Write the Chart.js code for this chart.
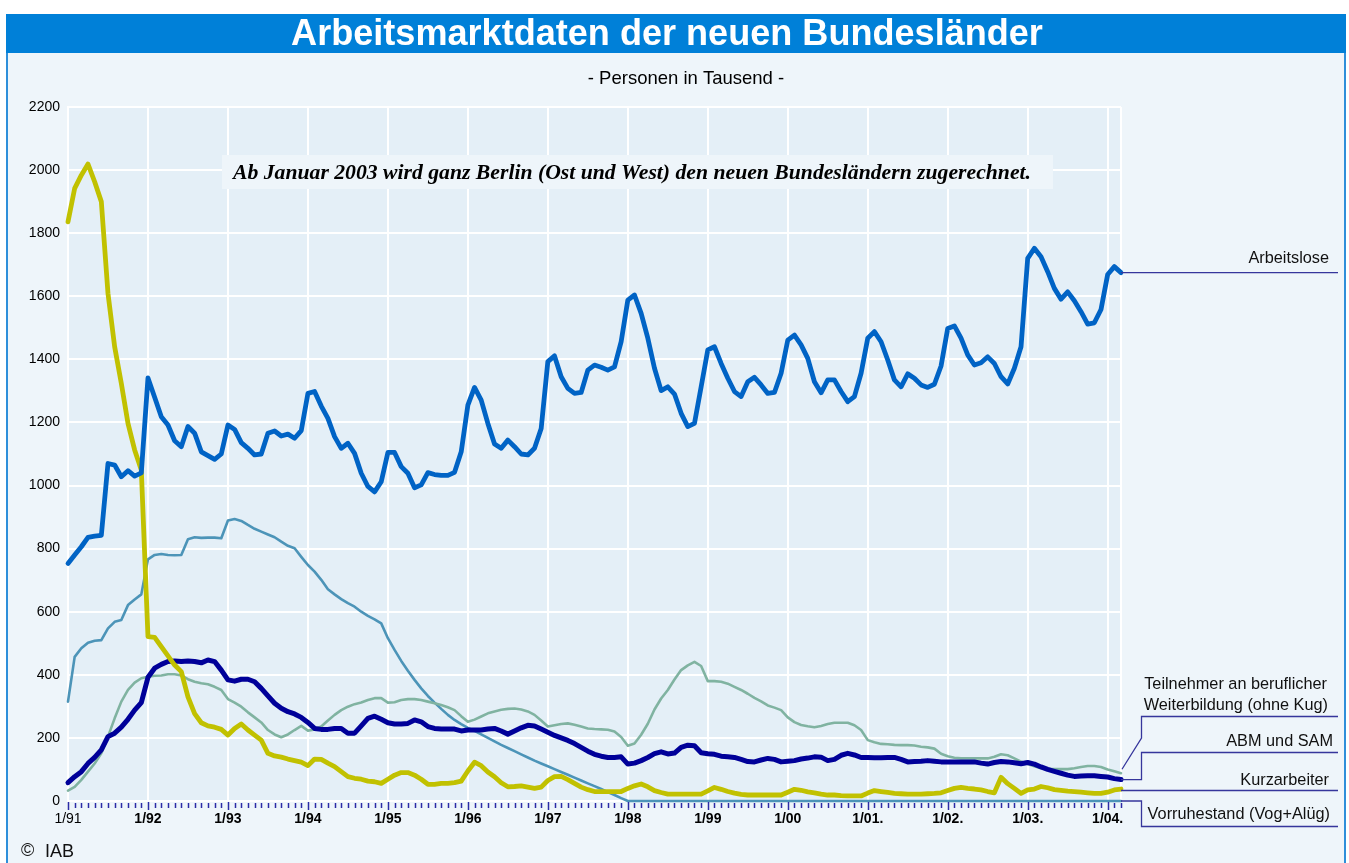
<!DOCTYPE html>
<html>
<head>
<meta charset="utf-8">
<script src="https://cdn.jsdelivr.net/npm/chart.js@4.4.1/dist/chart.umd.min.js"></script>
<style>
  html, body { margin: 0; padding: 0; background: #ffffff; overflow: hidden; }
  #wrap { position: absolute; left: 0; top: 0; width: 1349px; height: 863px; }
  canvas { display: block; }
</style>
</head>
<body>
<div id="wrap"><canvas id="c" width="1349" height="863" style="width:1349px;height:863px"></canvas></div>
<script>
// ---------- DATA (Personen in Tausend, monatlich 1/91 – 3/04) ----------
const yearLabels = ['1/91','1/92','1/93','1/94','1/95','1/96','1/97','1/98','1/99','1/00','1/01.','1/02.','1/03.','1/04.'];
const monthsInLastYear = 3;

const arbeitslose = [
  753, 780, 806, 836, 840, 842, 1070, 1065, 1028, 1047, 1030, 1040,
  1341, 1280, 1218, 1192, 1142, 1123, 1187, 1166, 1107, 1095, 1083, 1100,
  1192, 1178, 1136, 1118, 1097, 1100, 1166, 1173, 1157, 1163, 1150, 1174,
  1292, 1298, 1252, 1213, 1155, 1118, 1134, 1102, 1039, 997, 980, 1012,
  1105, 1105, 1060, 1039, 993, 1002, 1041, 1035, 1032, 1032, 1042, 1107,
  1255, 1311, 1271, 1197, 1132, 1118, 1144, 1123, 1100, 1097, 1118, 1181,
  1393, 1411, 1345, 1308, 1292, 1295, 1366, 1382, 1375, 1366, 1376, 1456,
  1588, 1604, 1546, 1467, 1372, 1301, 1313, 1290, 1229, 1187, 1197, 1313,
  1430, 1440, 1387, 1340, 1298, 1282, 1329, 1343, 1319, 1292, 1295, 1356,
  1461, 1477, 1446, 1403, 1329, 1294, 1335, 1335, 1298, 1266, 1282, 1356,
  1467, 1488, 1456, 1398, 1335, 1313, 1354, 1340, 1319, 1311, 1321, 1379,
  1498, 1506, 1467, 1414, 1382, 1389, 1408, 1387, 1345, 1322, 1372, 1440,
  1720, 1752, 1725, 1678, 1625, 1591, 1614, 1586, 1551, 1512, 1516, 1558,
  1669, 1694, 1675
];

const kurzarbeiter = [
  1836, 1942, 1984, 2019, 1963, 1900, 1609, 1440, 1324, 1197, 1113, 1049,
  521, 519, 489, 460, 431, 410, 330, 277, 248, 238, 234, 227,
  209, 230, 244, 225, 209, 193, 151, 143, 139, 133, 128, 123,
  112, 133, 132, 120, 109, 93, 77, 72, 69, 63, 61, 56,
  69, 82, 90, 90, 82, 69, 53, 53, 56, 56, 58, 63,
  95, 123, 112, 92, 77, 58, 45, 46, 48, 44, 40, 44,
  65, 77, 78, 68, 56, 44, 36, 30, 30, 30, 30, 30,
  40, 48, 54, 45, 33, 27, 22, 22, 22, 22, 22, 22,
  32, 43, 37, 30, 25, 21, 19, 19, 19, 19, 19, 19,
  28, 37, 34, 29, 26, 22, 19, 19, 17, 16, 16, 16,
  25, 33, 30, 27, 24, 23, 22, 22, 22, 23, 24, 26,
  33, 40, 43, 40, 38, 35, 30, 26, 75, 55, 40, 24,
  35, 38, 46, 42, 36, 34, 31, 30, 28, 26, 24, 24,
  28, 35, 38
];

const abmSam = [
  58, 77, 93, 119, 138, 162, 204, 215, 234, 259, 288, 312,
  392, 421, 433, 442, 444, 442, 444, 442, 438, 447, 442, 415,
  384, 380, 386, 386, 378, 357, 333, 310, 294, 283, 276, 265,
  249, 230, 227, 227, 230, 230, 215, 215, 238, 262, 269, 259,
  248, 244, 244, 246, 257, 251, 236, 230, 228, 228, 228, 222,
  225, 225, 225, 228, 230, 222, 212, 222, 232, 240, 238, 228,
  218, 208, 200, 192, 182, 170, 158, 148, 142, 138, 138, 140,
  117, 120, 128, 138, 150, 156, 149, 152, 170, 177, 175, 153,
  150, 148, 142, 140, 138, 132, 125, 124, 130, 135, 132, 124,
  126, 128, 133, 136, 140, 139, 128, 132, 145, 151, 146, 138,
  138, 137, 137, 138, 138, 132, 124, 125, 126, 128, 126, 124,
  124, 124, 124, 124, 124, 120, 117, 122, 125, 124, 121, 118,
  122, 117, 108, 100, 94, 88, 82, 78, 79, 80, 80, 78,
  76, 71, 68
];

const weiterbildung = [
  33, 45, 67, 93, 119, 151, 204, 262, 315, 352, 375, 389,
  394, 397, 398, 402, 402, 398, 386, 378, 373, 370, 362, 352,
  323, 312, 299, 281, 265, 249, 225, 211, 202, 211, 225, 238,
  223, 227, 236, 255, 273, 288, 299, 307, 312, 320, 326, 326,
  312, 313, 320, 323, 323, 320, 315, 310, 304, 297, 288, 269,
  251, 258, 268, 278, 284, 289, 292, 293, 290, 284, 273, 255,
  236, 240, 244, 246, 242, 236, 230, 228, 227, 226, 220, 203,
  175, 182, 210, 245, 290, 325, 352, 385, 415, 430, 441, 428,
  380, 380, 378, 372, 362, 352, 340, 327, 316, 303, 296, 288,
  265, 250, 241, 237, 234, 238, 244, 248, 248, 248, 240, 225,
  193, 186, 181, 180, 178, 177, 177, 176, 172, 170, 166, 150,
  142, 137, 135, 135, 135, 135, 135, 140, 148, 145, 135, 125,
  117, 110, 104, 102, 101, 101, 101, 104, 108, 111, 111, 108,
  100, 94, 88
];

const vorruhestand = [
  315, 457, 484, 502, 508, 510, 547, 568, 574, 621, 639, 655,
  766, 780, 783, 780, 779, 780, 830, 836, 834, 835, 835, 833,
  889, 894, 888, 875, 863, 854, 845, 836, 822, 809, 801, 774,
  748, 727, 701, 671, 655, 640, 627, 616, 600, 587, 576, 563,
  516, 479, 444, 413, 384, 357, 333, 312, 292, 273, 257, 244,
  232, 222, 211, 200, 189, 178, 168, 158, 148, 138, 128, 119,
  110, 101, 92, 83, 74, 65, 56, 47, 38, 28, 19, 9,
  0, 0, 0, 0, 0, 0, 0, 0, 0, 0, 0, 0,
  0, 0, 0, 0, 0, 0, 0, 0, 0, 0, 0, 0,
  0, 0, 0, 0, 0, 0, 0, 0, 0, 0, 0, 0,
  0, 0, 0, 0, 0, 0, 0, 0, 0, 0, 0, 0,
  0, 0, 0, 0, 0, 0, 0, 0, 0, 0, 0, 0,
  0, 0, 0, 0, 0, 0, 0, 0, 0, 0, 0, 0,
  0, 0, 0
];

const seriesNames = {
  arbeitslose: 'Arbeitslose',
  weiterbildung: ['Teilnehmer an beruflicher', 'Weiterbildung (ohne Kug)'],
  abm: 'ABM und SAM',
  kurz: 'Kurzarbeiter',
  vorr: 'Vorruhestand (Vog+Alüg)'
};

// month categories built from the year tick labels
const categories = [];
yearLabels.forEach((yl, yi) => {
  const yy = yl.replace('1/', '').replace('.', '');
  const n = (yi === yearLabels.length - 1) ? monthsInLastYear : 12;
  for (let m = 1; m <= n; m++) categories.push(m + '/' + yy);
});

// ---------- STYLE ----------
const FONT = "'Liberation Sans', Arial, Helvetica, sans-serif";
const SERIF = "'Liberation Serif', 'Times New Roman', serif";
const C = {
  arbeitslose: '#0063C5',
  kurz: '#C1C100',
  abm: '#000099',
  weiter: '#80B3A1',
  vorr: '#4C94B8',
  conn: '#36369C'
};

function fitSize(ctx, text, style, family, targetW) {
  ctx.font = style + ' 100px ' + family;
  return 100 * targetW / ctx.measureText(text).width;
}

const decoPlugin = {
  id: 'deco',
  beforeDraw(chart) {
    const ctx = chart.ctx, a = chart.chartArea;
    ctx.save();
    ctx.fillStyle = '#ffffff';
    ctx.fillRect(0, 0, chart.width, chart.height);
    // panel
    ctx.fillStyle = '#EEF5FA';
    ctx.fillRect(6, 14, 1340, 849);
    ctx.fillStyle = '#2E8FDA';
    ctx.fillRect(6, 14, 2, 849);
    ctx.fillRect(1344, 14, 2, 849);
    // title bar
    ctx.fillStyle = '#0080D8';
    ctx.fillRect(6, 14, 1340, 39);
    // plot area
    ctx.fillStyle = '#E4EFF7';
    ctx.fillRect(a.left, a.top, a.right - a.left, a.bottom - a.top);
    ctx.restore();
  },
  afterDraw(chart) {
    const ctx = chart.ctx, a = chart.chartArea;
    const xs = chart.scales.x, ys = chart.scales.y;
    ctx.save();

    // title
    const title = 'Arbeitsmarktdaten der neuen Bundesländer';
    const ts = fitSize(ctx, title, 'bold', FONT, 752);
    ctx.font = 'bold ' + ts.toFixed(1) + 'px ' + FONT;
    ctx.fillStyle = '#ffffff';
    ctx.textAlign = 'center';
    ctx.textBaseline = 'alphabetic';
    ctx.fillText(title, 667, 45);

    // subtitle
    ctx.fillStyle = '#000000';
    const ss = fitSize(ctx, '- Personen in Tausend -', '', FONT, 196);
    ctx.font = ss.toFixed(1) + 'px ' + FONT;
    ctx.textBaseline = 'middle';
    ctx.fillText('- Personen in Tausend -', 686, 79);

    // note box
    const note = 'Ab Januar 2003 wird ganz Berlin (Ost und West) den neuen Bundesländern zugerechnet.';
    ctx.fillStyle = '#EEF5FA';
    ctx.fillRect(222, 155, 831, 34);
    const ns = fitSize(ctx, note, 'italic bold', SERIF, 800);
    ctx.font = 'italic bold ' + ns.toFixed(1) + 'px ' + SERIF;
    ctx.fillStyle = '#000000';
    ctx.textAlign = 'left';
    ctx.textBaseline = 'alphabetic';
    ctx.fillText(note, 233, 179);

    // month tick marks
    ctx.strokeStyle = '#2B2BA6';
    ctx.lineWidth = 1.5;
    for (let i = 0; i < categories.length; i++) {
      const x = Math.round(xs.getPixelForValue(i)) + 0.5;
      ctx.beginPath();
      if (i % 12 === 0) { ctx.moveTo(x, a.bottom + 1); ctx.lineTo(x, a.bottom + 9); }
      else { ctx.moveTo(x, a.bottom + 2); ctx.lineTo(x, a.bottom + 7); }
      ctx.stroke();
    }

    // legend labels
    const last = categories.length - 1;
    const xe = xs.getPixelForValue(last);
    const xb = 1141.5, xr = 1338;
    ctx.font = '16.3px ' + FONT;
    ctx.fillStyle = '#111111';
    ctx.textAlign = 'right';
    ctx.textBaseline = 'alphabetic';
    ctx.fillText(seriesNames.arbeitslose, 1329, 263);
    ctx.fillText(seriesNames.weiterbildung[0], 1327, 689);
    ctx.fillText(seriesNames.weiterbildung[1], 1328, 710);
    ctx.fillText(seriesNames.abm, 1333, 746);
    ctx.fillText(seriesNames.kurz, 1329, 785);
    ctx.fillText(seriesNames.vorr, 1330, 819);

    // connectors
    ctx.strokeStyle = C.conn;
    ctx.lineWidth = 1.3;
    const yA = ys.getPixelForValue(arbeitslose[last]);
    ctx.beginPath(); ctx.moveTo(xe, yA); ctx.lineTo(xr, yA); ctx.stroke();
    const yW = ys.getPixelForValue(weiterbildung[last]);
    ctx.beginPath(); ctx.moveTo(xe + 1, yW - 4); ctx.lineTo(xb, 738); ctx.lineTo(xb, 716.5); ctx.lineTo(xr, 716.5); ctx.stroke();
    const yB = ys.getPixelForValue(abmSam[last]);
    ctx.beginPath(); ctx.moveTo(xe, yB); ctx.lineTo(xb, yB); ctx.lineTo(xb, 752.5); ctx.lineTo(xr, 752.5); ctx.stroke();
    const yK = ys.getPixelForValue(kurzarbeiter[last]) + 1.5;
    ctx.beginPath(); ctx.moveTo(xe, yK); ctx.lineTo(xr, yK); ctx.stroke();
    const yV = ys.getPixelForValue(vorruhestand[last]);
    ctx.beginPath(); ctx.moveTo(xe, yV); ctx.lineTo(xb, yV); ctx.lineTo(xb, 826.5); ctx.lineTo(xr, 826.5); ctx.stroke();

    // copyright
    ctx.fillStyle = '#111111';
    ctx.textAlign = 'left';
    ctx.textBaseline = 'middle';
    ctx.font = '18px ' + FONT;
    ctx.fillText('©', 21, 851);
    ctx.fillText('IAB', 45, 852);

    ctx.restore();
  }
};

const common = { pointRadius: 0, pointHoverRadius: 0, tension: 0, fill: false, clip: false,
                 borderJoinStyle: 'round', borderCapStyle: 'round' };

new Chart(document.getElementById('c').getContext('2d'), {
  type: 'line',
  data: {
    labels: categories,
    datasets: [
      Object.assign({ label: 'Arbeitslose', data: arbeitslose, borderColor: C.arbeitslose, borderWidth: 4.8 }, common),
      Object.assign({ label: 'Kurzarbeiter', data: kurzarbeiter, borderColor: C.kurz, borderWidth: 4.8 }, common),
      Object.assign({ label: 'ABM und SAM', data: abmSam, borderColor: C.abm, borderWidth: 5 }, common),
      Object.assign({ label: 'Teilnehmer an beruflicher Weiterbildung (ohne Kug)', data: weiterbildung, borderColor: C.weiter, borderWidth: 2.6 }, common),
      Object.assign({ label: 'Vorruhestand (Vog+Alüg)', data: vorruhestand, borderColor: C.vorr, borderWidth: 2.6 }, common)
    ]
  },
  options: {
    responsive: false,
    animation: false,
    devicePixelRatio: 1,
    events: [],
    layout: { padding: { left: 0, top: 107, right: 228, bottom: 0 } },
    plugins: { legend: { display: false }, tooltip: { enabled: false }, title: { display: false } },
    scales: {
      x: {
        type: 'category',
        offset: false,
        border: { display: false },
        grid: {
          drawTicks: false,
          lineWidth: 2,
          color: (c) => (c.index % 12 === 0 || c.index === categories.length - 1) ? '#ffffff' : 'rgba(0,0,0,0)'
        },
        ticks: {
          autoSkip: false,
          maxRotation: 0,
          minRotation: 0,
          padding: 10,
          color: '#000000',
          font: (c) => ({ family: FONT, size: 14, weight: c.index === 0 ? 'normal' : 'bold' }),
          callback: (v, i) => (i % 12 === 0) ? yearLabels[i / 12] : ''
        },
        afterFit: (s) => { s.height = 62; }
      },
      y: {
        min: 0,
        max: 2200,
        border: { display: true, color: '#ffffff', width: 2 },
        grid: { drawTicks: false, color: '#ffffff', lineWidth: 2 },
        ticks: { stepSize: 200, padding: 8, color: '#000000', font: { family: FONT, size: 14 },
                 callback: (v) => String(v) },
        afterFit: (s) => { s.width = 68; }
      }
    }
  },
  plugins: [decoPlugin]
});
</script>
</body>
</html>
